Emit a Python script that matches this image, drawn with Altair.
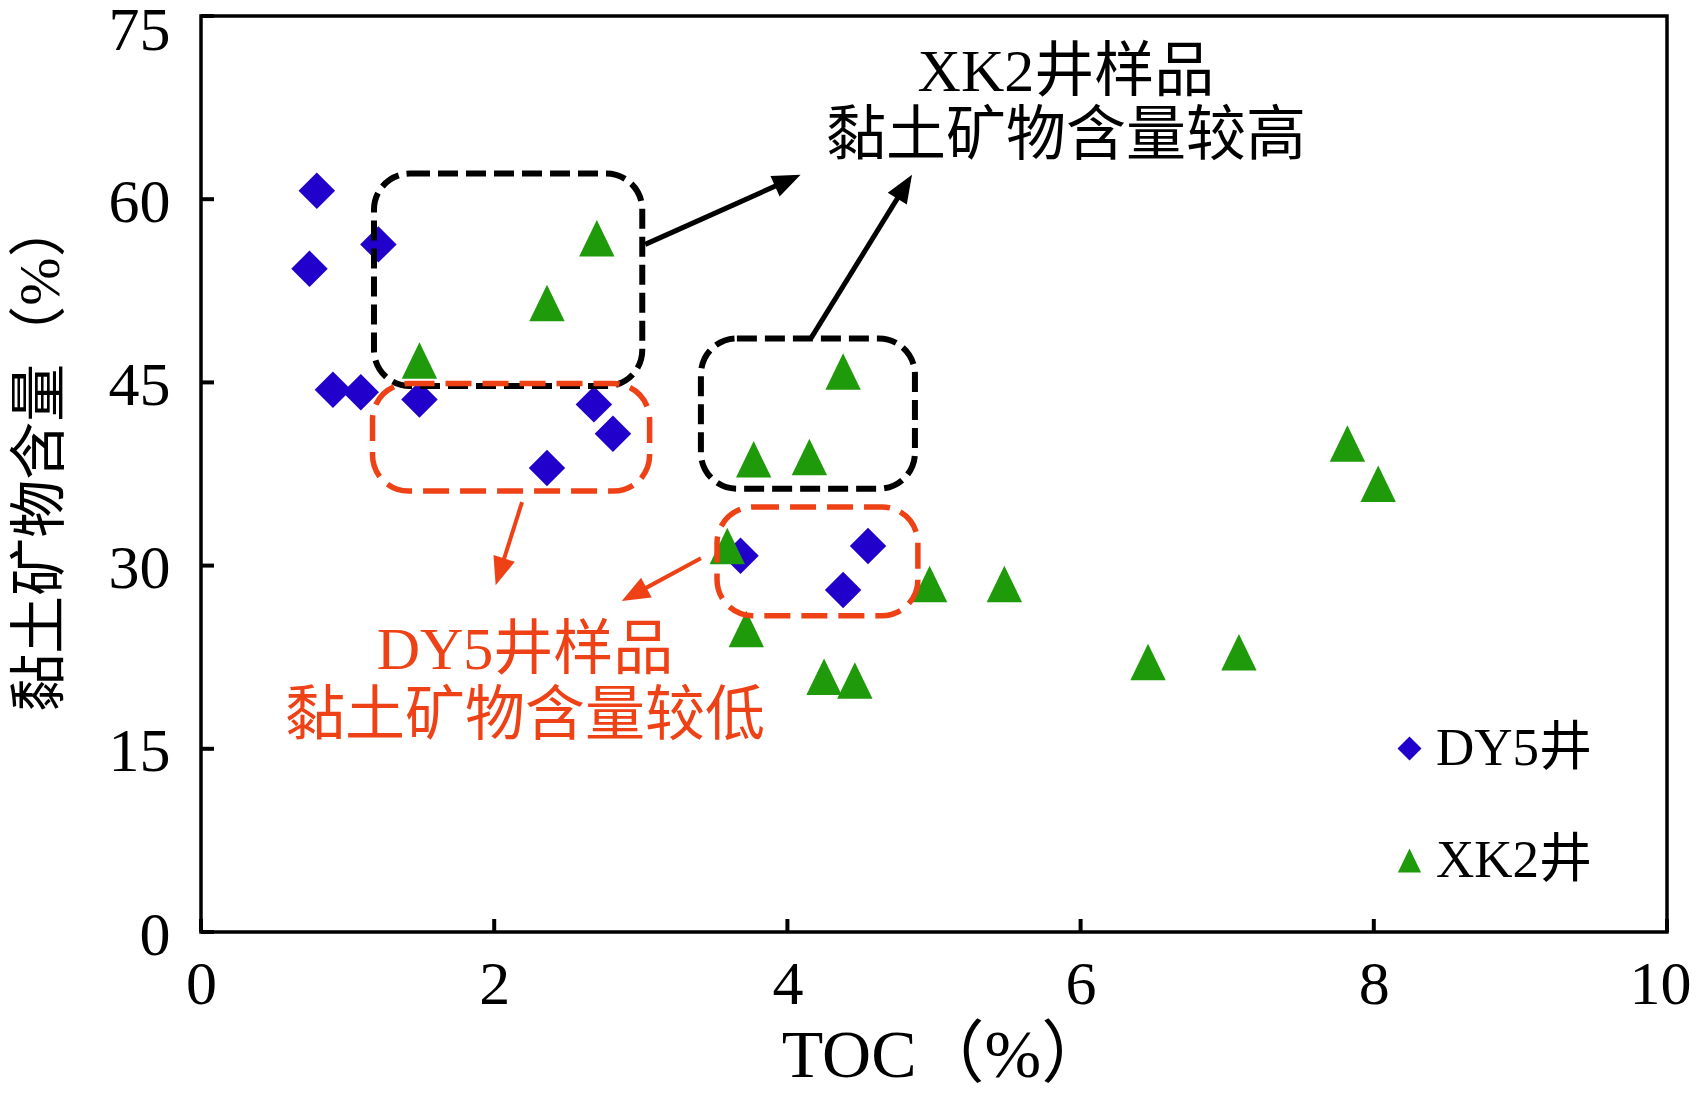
import math
import altair as alt
import pandas as pd

# ---------------- data ----------------
series = ["DY5井", "XK2井"]

dy5_toc = [0.79, 0.74, 1.21, 0.90, 1.09, 1.49, 2.68, 2.81, 2.36, 3.68, 4.55, 4.38]
dy5_clay = [60.7, 54.3, 56.3, 44.4, 44.2, 43.6, 43.2, 40.8, 38.0, 30.8, 31.6, 28.0]

xk2_toc = [2.70, 2.36, 1.49, 4.38, 3.77, 4.15, 7.82, 8.03, 3.59, 3.72, 4.97, 5.48, 4.25, 4.46, 6.46, 7.08]
xk2_clay = [56.8, 51.5, 46.8, 45.9, 38.7, 38.9, 40.0, 36.7, 31.6, 24.8, 28.5, 28.5, 20.9, 20.6, 22.1, 22.9]

x_ticks = [0, 2, 4, 6, 8, 10]
y_ticks = [0, 15, 30, 45, 60, 75]

x_title = "TOC（%）"
y_title = "黏土矿物含量（%）"

# annotation boxes (data units)
box_kind = ["high", "high", "low", "low"]
box_x1 = [1.18, 3.41, 1.17, 3.52]
box_x2 = [3.01, 4.87, 3.06, 4.89]
box_y1 = [62.1, 48.6, 44.9, 34.8]
box_y2 = [44.7, 36.3, 36.1, 25.9]

# annotation arrows (data units, from -> tip)
arrow_kind = ["high", "high", "low", "low"]
arrow_x1 = [3.03, 4.16, 2.19, 3.41]
arrow_y1 = [56.3, 48.6, 35.2, 30.6]
arrow_x2 = [4.09, 4.85, 2.01, 2.87]
arrow_y2 = [62.0, 62.0, 28.4, 27.1]

# annotation texts
label_kind = ["high", "high", "low", "low"]
label_text = ["XK2井样品", "黏土矿物含量较高", "DY5井样品", "黏土矿物含量较低"]
label_x = [5.9, 5.9, 2.21, 2.21]
label_y = [70.3, 65.1, 23.0, 17.6]

# ---------------- layout / style ----------------
W, H = 1466, 916
FONT = "Liberation Serif, Noto Sans CJK SC"
BLUE = "#2200CC"
GREEN = "#1F9A0A"
RED = "#EE4216"
BLACK = "#000000"
kind_color = {"high": BLACK, "low": RED}
kind_dash = {"high": [20, 8], "low": [26, 11]}
kind_width = {"high": 6, "low": 5.5}
TRI = "M0,-1L0.97,1L-0.97,1Z"

XMAX, YMAX = 10, 75
PX_X = W / XMAX
PX_Y = H / YMAX
HEAD_R = 14   # half length of arrow head in px
TICK_LEN = 13  # inward tick length in px

xs = alt.Scale(domain=[0, XMAX], nice=False, zero=False)
ys = alt.Scale(domain=[0, YMAX], nice=False, zero=False)

pts = pd.DataFrame({
    "toc": dy5_toc + xk2_toc,
    "clay": dy5_clay + xk2_clay,
    "well": [series[0]] * len(dy5_toc) + [series[1]] * len(xk2_toc),
})

boxes = pd.DataFrame({"kind": box_kind, "x1": box_x1, "x2": box_x2, "y1": box_y1, "y2": box_y2})

rows = []
for k, a, b, c, d in zip(arrow_kind, arrow_x1, arrow_y1, arrow_x2, arrow_y2):
    dx = (c - a) * PX_X
    dy = (d - b) * PX_Y
    L = math.hypot(dx, dy)
    ux, uy = dx / L, dy / L
    cx = c - HEAD_R * ux / PX_X
    cy = d - HEAD_R * uy / PX_Y
    ang = math.degrees(math.atan2(dx, dy)) % 360
    rows.append({"kind": k, "x1": a, "y1": b, "hx": cx, "hy": cy, "ang": ang})
arrows = pd.DataFrame(rows)

texts = pd.DataFrame({"kind": label_kind, "t": label_text, "x": label_x, "y": label_y})

# inward tick segments derived from the tick values
tick_rows = []
for v in y_ticks:
    tick_rows.append({"x1": 0.0, "x2": TICK_LEN / PX_X, "y1": float(v), "y2": float(v)})
for v in x_ticks:
    tick_rows.append({"x1": float(v), "x2": float(v), "y1": 0.0, "y2": TICK_LEN / PX_Y})
tick_df = pd.DataFrame(tick_rows)

legend_common = dict(title=None, orient="none", legendX=1182, legendY=706)

points = alt.Chart(pts).mark_point(filled=True, opacity=1, size=1330, strokeWidth=0).encode(
    x=alt.X("toc:Q", scale=xs, axis=alt.Axis(
        values=x_ticks, title=x_title, ticks=False, tickSize=0, domain=False, grid=False,
        labelFont="Liberation Serif", labelFontSize=62, labelColor="black", labelPadding=22,
        labelFlush=False,
        labelOffset={"condition": {"test": "datum.value == 10", "value": -7}, "value": 0},
        titleFont=FONT, titleFontSize=68, titleFontWeight="normal", titleColor="black",
        titleX=744, titleY=144, titleBaseline="alphabetic", titleAlign="center")),
    y=alt.Y("clay:Q", scale=ys, axis=alt.Axis(
        values=y_ticks, title=y_title, ticks=False, tickSize=0, domain=False, grid=False,
        labelFont="Liberation Serif", labelFontSize=62, labelColor="black", labelPadding=31,
        labelFlush=False,
        labelOffset={"condition": {"test": "datum.value == 75", "value": 14}, "value": 3},
        titleFont=FONT, titleFontSize=58, titleFontWeight="normal", titleColor="black",
        titleAngle=270, titleX=-160, titleY=439, titleBaseline="middle", titleAlign="center")),
    color=alt.Color("well:N", scale=alt.Scale(domain=series, range=[BLUE, GREEN]),
                    legend=alt.Legend(**legend_common)),
    shape=alt.Shape("well:N", scale=alt.Scale(domain=series, range=["diamond", TRI]),
                    legend=alt.Legend(**legend_common)),
)

ticks = alt.Chart(tick_df).mark_rule(color="black", strokeWidth=4, opacity=1).encode(
    x=alt.X("x1:Q", scale=xs, axis=None), x2="x2:Q",
    y=alt.Y("y1:Q", scale=ys, axis=None), y2="y2:Q",
)

layers = [ticks, points]
for k in ["high", "low"]:
    col = kind_color[k]
    bx = alt.Chart(boxes).transform_filter(alt.datum.kind == k).mark_rect(
        filled=False, stroke=col, strokeWidth=kind_width[k], strokeDash=kind_dash[k], cornerRadius=36
    ).encode(
        x=alt.X("x1:Q", scale=xs, axis=None), x2="x2:Q",
        y=alt.Y("y1:Q", scale=ys, axis=None), y2="y2:Q",
    )
    ln = alt.Chart(arrows).transform_filter(alt.datum.kind == k).mark_rule(
        color=col, strokeWidth=5 if k == "high" else 4
    ).encode(
        x=alt.X("x1:Q", scale=xs, axis=None), x2="hx:Q",
        y=alt.Y("y1:Q", scale=ys, axis=None), y2="hy:Q",
    )
    hd = alt.Chart(arrows).transform_filter(alt.datum.kind == k).mark_point(
        shape="M0,-1L0.8,1L-0.8,1Z", filled=True, color=col, opacity=1,
        size=(2 * HEAD_R) ** 2, strokeWidth=0
    ).encode(
        x=alt.X("hx:Q", scale=xs, axis=None),
        y=alt.Y("hy:Q", scale=ys, axis=None),
        angle=alt.Angle("ang:Q", scale=None),
    )
    tx = alt.Chart(texts).transform_filter(alt.datum.kind == k).mark_text(
        font=FONT, fontSize=60, color=col, align="center", baseline="middle"
    ).encode(
        x=alt.X("x:Q", scale=xs, axis=None),
        y=alt.Y("y:Q", scale=ys, axis=None),
        text="t:N",
    )
    layers += [bx, ln, hd, tx]

chart = alt.layer(*layers).resolve_axis(x="independent", y="independent").properties(
    width=W, height=H,
    autosize=alt.AutoSizeParams(type="none"),
    padding={"left": 193, "top": 8, "right": 26, "bottom": 160},
    background="white",
).configure_view(
    stroke="black", strokeWidth=3.5
).configure_legend(
    labelFont=FONT, labelFontSize=53, labelColor="black", symbolSize=576,
    symbolStrokeWidth=0, rowPadding=58, padding=0, labelOffset=0, symbolOffset=0,
    symbolType="diamond",
)

chart.save("out.html", embed_options={"renderer": "svg", "actions": False})
